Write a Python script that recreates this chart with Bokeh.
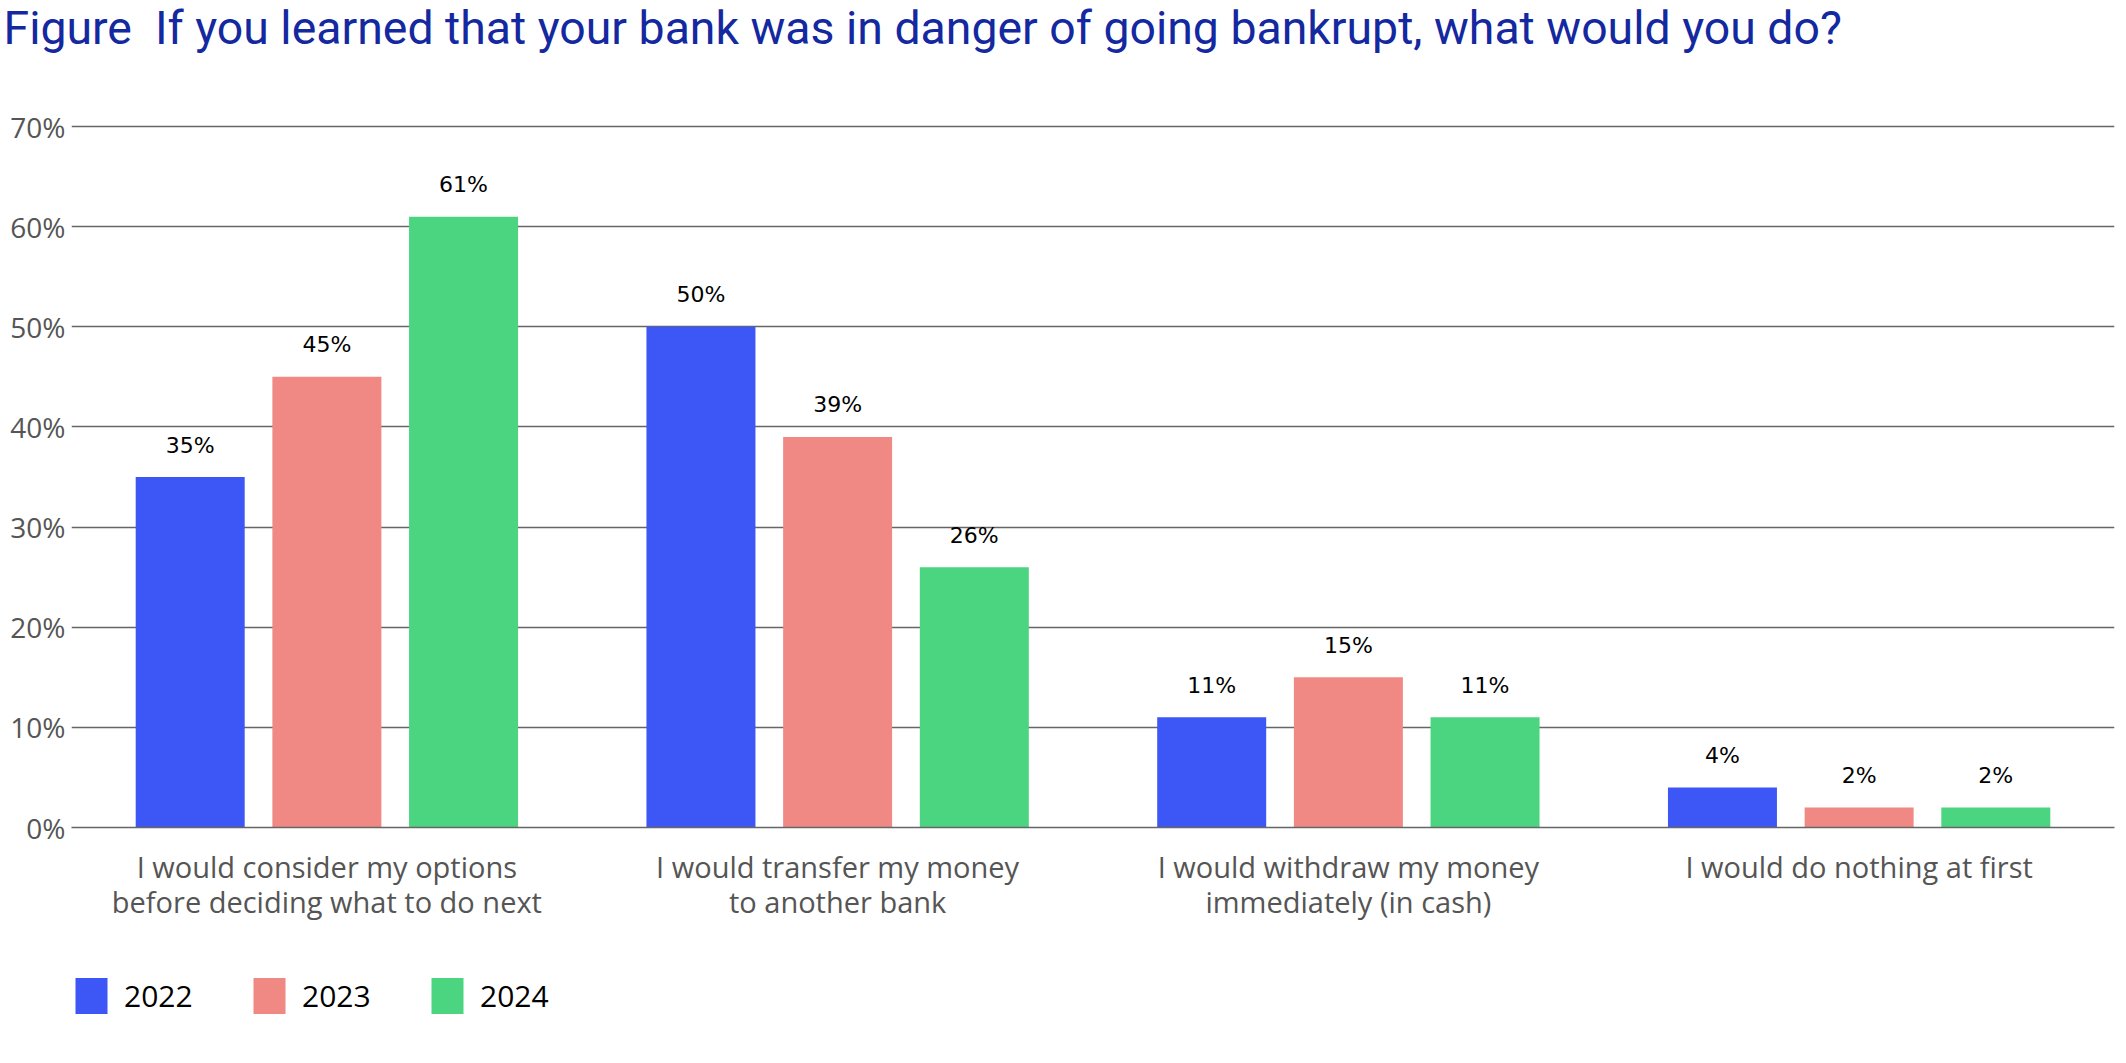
from bokeh.plotting import figure
from bokeh.layouts import column
from bokeh.models import (FactorRange, Range1d, ColumnDataSource, FixedTicker,
                          PrintfTickFormatter, Legend, LegendItem)
from bokeh.transform import dodge
from bokeh.core.properties import value
from bokeh.embed import file_html
from bokeh.resources import INLINE

# ---------------- data ----------------
title_text = "Figure\u00a0\u00a0If you learned that your bank was in danger of going bankrupt, what would you do?"
categories = [
    "I would consider my options\nbefore deciding what to do next",
    "I would transfer my money\nto another bank",
    "I would withdraw my money\nimmediately (in cash)",
    "I would do nothing at first",
]
years = ["2022", "2023", "2024"]
values_2022 = [35, 50, 11, 4]
values_2023 = [45, 39, 15, 2]
values_2024 = [61, 26, 11, 2]
y_ticks = [0, 10, 20, 30, 40, 50, 60, 70]

colors = ["#3D57F6", "#F08884", "#4BD581"]
series = [values_2022, values_2023, values_2024]

data = {"cat": categories}
for yr, vals in zip(years, series):
    data["v" + yr] = vals
    data["l" + yr] = [f"{v}%" for v in vals]
source = ColumnDataSource(data)

TITLE_H = 70
LEG_H = 90
MAIN_H = 1063 - TITLE_H - LEG_H

# ---------------- title strip ----------------
tf = figure(width=2126, height=TITLE_H,
            x_range=Range1d(0, 1), y_range=Range1d(0, 1),
            x_axis_location=None, y_axis_location=None,
            output_backend="svg", toolbar_location=None,
            min_border_left=71, min_border_right=12,
            min_border_top=0, min_border_bottom=0)
tf.outline_line_color = None
tf.grid.visible = False
tf.title.text = title_text
tf.title.text_font = "Roboto"
tf.title.text_font_size = "46.4px"
tf.title.text_font_style = "normal"
tf.title.text_color = "#1428A0"
tf.title.align = "left"
tf.title.vertical_align = "top"
tf.title.offset = -68
tf.title.standoff = 0

# ---------------- main chart ----------------
p = figure(width=2126, height=MAIN_H,
           x_range=FactorRange(*categories, range_padding=0),
           y_range=Range1d(0, 70.3),
           output_backend="svg", toolbar_location=None,
           min_border_left=71, min_border_right=12,
           min_border_top=123 - TITLE_H, min_border_bottom=146)
p.outline_line_color = None
p.title.text = ""

# grid
p.xgrid.grid_line_color = None
p.ygrid.ticker = FixedTicker(ticks=y_ticks)
p.ygrid.grid_line_color = "#666666"
p.ygrid.grid_line_width = 1.5

# y axis
ya = p.yaxis[0]
ya.ticker = FixedTicker(ticks=y_ticks)
ya.formatter = PrintfTickFormatter(format="%d%%")
ya.axis_line_color = None
ya.major_tick_line_color = None
ya.minor_tick_line_color = None
ya.major_tick_out = 0
ya.major_label_text_font = "Open Sans"
ya.major_label_text_font_size = "28px"
ya.major_label_text_color = "#555555"
ya.major_label_standoff = 6

# x axis
xa = p.xaxis[0]
xa.axis_line_color = "#666666"
xa.axis_line_width = 1.5
xa.major_tick_line_color = None
xa.minor_tick_line_color = None
xa.major_tick_out = 0
xa.major_label_text_font = "Open Sans"
xa.major_label_text_font_size = "29px"
xa.major_label_text_color = "#555555"
xa.major_label_text_line_height = 0.92
xa.major_label_standoff = 19

offsets = [-0.2676, 0.0, 0.2676]
bar_w = 0.2134
for yr, off, col in zip(years, offsets, colors):
    p.vbar(x=dodge("cat", off, range=p.x_range), top="v" + yr, width=bar_w,
           source=source, fill_color=col, line_color=None)
    p.text(x=dodge("cat", off, range=p.x_range), y="v" + yr, text="l" + yr,
           source=source, text_align="center", text_baseline="alphabetic",
           y_offset=-32, text_font=value("DejaVu Sans"), text_font_size="22px",
           text_color="#000000")

# ---------------- legend strip ----------------
# the same series, drawn in a strip whose y range lies far above the data,
# so only the legend entries show
lf = figure(width=2126, height=LEG_H,
            x_range=FactorRange(*categories, range_padding=0),
            y_range=Range1d(1000, 1001),
            x_axis_location=None, y_axis_location=None,
            output_backend="svg", toolbar_location=None,
            min_border_left=71, min_border_right=12,
            min_border_top=0, min_border_bottom=0)
lf.outline_line_color = None
lf.grid.visible = False
lf.title.text = ""

items = []
for yr, off, col in zip(years, offsets, colors):
    r = lf.vbar(x=dodge("cat", off, range=lf.x_range), top="v" + yr,
                width=bar_w, source=source, fill_color=col, line_color=None)
    items.append(LegendItem(label=yr, renderers=[r]))

legend = Legend(items=items, location="top_left", orientation="horizontal",
                glyph_width=40, glyph_height=45, label_standoff=13,
                label_width=90, spacing=35, padding=0, margin=0,
                label_text_font="Open Sans", label_text_font_size="30px",
                label_text_color="#000000",
                border_line_color=None, background_fill_alpha=0)
lf.add_layout(legend)

layout = column(tf, p, lf, spacing=0)
open("out.html", "w").write(file_html(layout, INLINE))
